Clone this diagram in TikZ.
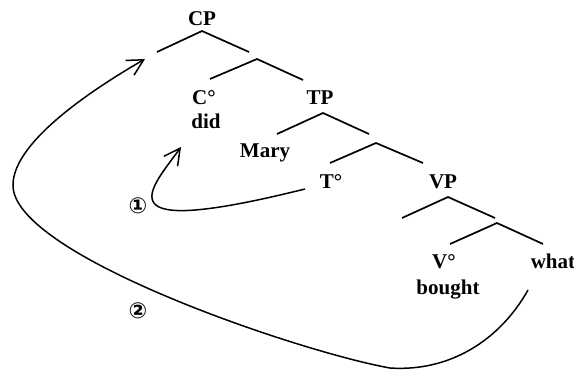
\documentclass[tikz,border=0pt]{standalone}
\usepackage{fontspec}
\setmainfont{Liberation Serif}
\newfontfamily\circfont{DejaVu Sans}
\usetikzlibrary{arrows.meta}
\begin{document}
\begin{tikzpicture}[x=1pt,y=-1pt,
  lbl/.style={font=\fontsize{21}{25}\selectfont\bfseries, anchor=base, inner sep=0pt},
  branch/.style={line width=1.7pt},
  move/.style={line width=1.5pt, -{Straight Barb[length=16pt,width=17pt]}},
  num/.style={font=\circfont\bfseries\fontsize{22}{26}\selectfont, inner sep=0pt}]
\useasboundingbox (0,0) rectangle (574,372);

% labels
\node[lbl] (CP) at (202,26) {CP};
\node[lbl] (C) at (204,104) {C°};
\node[lbl] (did) at (206,128) {did};
\node[lbl] (TP) at (320,104) {TP};
\node[lbl] (Mary) at (265,157) {Mary};
\node[lbl] (T) at (331,188) {T°};
\node[lbl] (VP) at (443,188) {VP};
\node[lbl] (V) at (444,268) {V°};
\node[lbl] (bought) at (448,294) {bought};
\node[lbl] (what) at (553,268) {what};
\node[num] (n1) at (138,206) {①};
\node[num] (n2) at (138,311) {②};

% tree coordinates
\coordinate (a1) at (202,31); \coordinate (l1) at (157,52); \coordinate (r1) at (249,52);
\coordinate (a2) at (257,59); \coordinate (l2) at (210,79); \coordinate (r2) at (303,80);
\coordinate (a3) at (323,113); \coordinate (l3) at (277,134); \coordinate (r3) at (369,134);
\coordinate (a4) at (376,143); \coordinate (l4) at (330,163); \coordinate (r4) at (423,163);
\coordinate (a5) at (448,197); \coordinate (l5) at (402,218); \coordinate (r5) at (495,218);
\coordinate (a6) at (497,223); \coordinate (l6) at (450,244); \coordinate (r6) at (543,244);

\foreach \i in {1,...,6} {
  \draw[branch] (l\i) -- (a\i) -- (r\i);
}

% movement arrows
\coordinate (s1) at (305,189); \coordinate (e1) at (181,147);
\draw[move] (s1) .. controls (100,240) and (150,190) .. (e1);

\coordinate (s2) at (528,290); \coordinate (b2) at (390,368);
\coordinate (m2) at (13,185); \coordinate (e2) at (145,59);
\draw[move] (s2) .. controls (500,340) and (450,372) .. (b2)
  .. controls (300,352) and (12,255) .. (m2)
  .. controls (13,140) and (100,85) .. (e2);
\end{tikzpicture}
\end{document}
